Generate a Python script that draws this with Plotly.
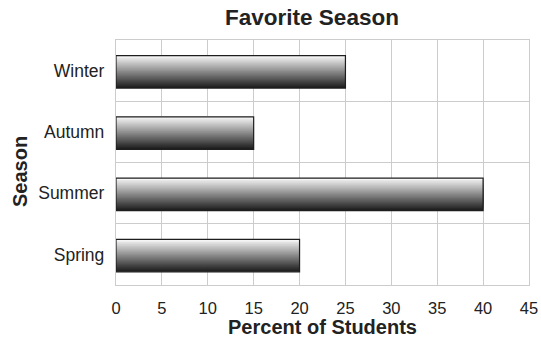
import plotly.graph_objects as go

seasons = ["Spring", "Summer", "Autumn", "Winter"]
percent = [20, 40, 15, 25]
x_ticks = [0, 5, 10, 15, 20, 25, 30, 35, 40, 45]

FONT = "Liberation Sans, Arial, Helvetica, sans-serif"
TXT = "#222222"

bar_w = 0.53
bar_bottom = -0.285
n_slices = 36
dark = (28, 28, 28)
light = (245, 245, 245)

fig = go.Figure()
step = bar_w / n_slices
for i in range(n_slices):
    t = i / (n_slices - 1)
    c = tuple(round(dark[k] + (light[k] - dark[k]) * t) for k in range(3))
    fig.add_trace(go.Bar(
        x=percent, y=seasons, orientation="h",
        width=bar_w - i * step, offset=bar_bottom + i * step,
        marker=dict(color="rgb(%d,%d,%d)" % c, line=dict(width=0)),
        hoverinfo="skip", showlegend=False,
    ))
# outline
fig.add_trace(go.Bar(
    x=percent, y=seasons, orientation="h",
    width=bar_w, offset=bar_bottom,
    marker=dict(color="rgba(0,0,0,0)", line=dict(color="#1e1e1e", width=1.2)),
    hoverinfo="skip", showlegend=False,
))

fig.update_layout(
    width=541, height=338,
    margin=dict(l=116, r=12, t=40, b=53),
    barmode="overlay",
    plot_bgcolor="white", paper_bgcolor="white",
    font=dict(family=FONT, color=TXT),
    title=dict(text="<b>Favorite Season</b>", font=dict(size=22.5, color=TXT),
               x=312 / 541, xanchor="center", y=1 - 17 / 338, yanchor="middle"),
    xaxis=dict(range=[0, 45], tickvals=x_ticks, showgrid=True, gridcolor="#cccccc",
               gridwidth=1.3, showline=True, mirror=True, linecolor="#cccccc", linewidth=1.3,
               zeroline=False, ticks="", tickfont=dict(size=16.5, color=TXT),
               automargin=False, ticklabelstandoff=8,
               title=dict(text="<b>Percent of Students</b>", font=dict(size=20, color=TXT), standoff=0)),
    yaxis=dict(type="category", categoryorder="array", categoryarray=seasons,
               range=[-0.5, 3.5], tickson="boundaries", showgrid=True, gridcolor="#cccccc",
               gridwidth=1.3, showline=True, mirror=True, linecolor="#cccccc", linewidth=1.3,
               ticks="", ticklabelstandoff=7, tickfont=dict(size=17.5, color=TXT),
               automargin=False),
    annotations=[dict(text="<b>Season</b>", textangle=-90, xref="paper", yref="paper",
                      x=-(116 - 20) / (541 - 128), xanchor="center",
                      y=(285 - 172) / 245, yanchor="middle", showarrow=False,
                      font=dict(size=20, color=TXT))],
)

fig.write_html("out.html")
